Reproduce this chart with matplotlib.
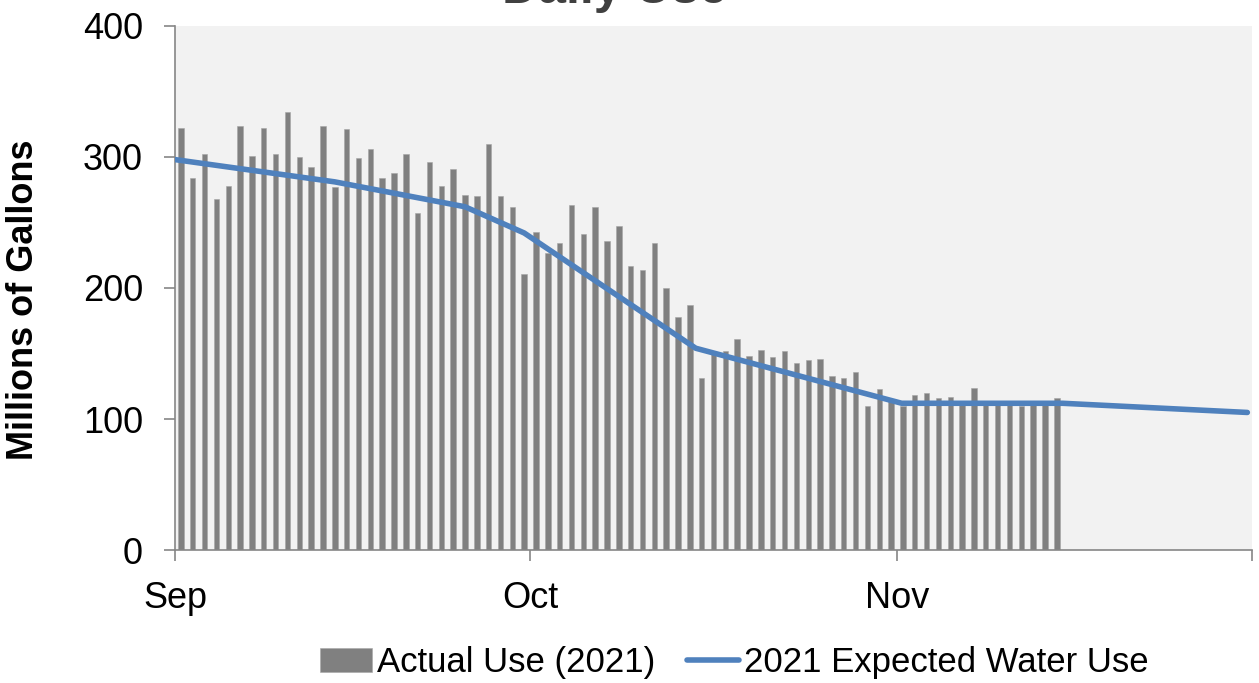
import matplotlib.pyplot as plt
import numpy as np

plt.rcParams['font.family'] = ['Liberation Sans', 'DejaVu Sans']

# daily actual use, Sep 1 .. Nov 14 (millions of gallons)
sep_use = [322, 284, 302, 268, 278, 324, 301, 322, 302, 334, 300, 292, 324, 277, 321,
           299, 306, 284, 288, 302, 257, 296, 278, 291, 271, 270, 310, 270, 262, 211]
oct_use = [243, 227, 234, 263, 241, 262, 236, 247, 217, 214, 234, 200, 178, 187, 131,
           150, 152, 161, 148, 153, 147, 152, 143, 145, 146, 133, 131, 136, 110, 123, 115]
nov_use = [110, 118, 120, 116, 117, 114, 124, 113, 111, 111, 110, 111, 114, 116]
actual = sep_use + oct_use + nov_use

# expected use curve (day offset from Sep 1, value)
exp_days = [0, 13.5, 24.5, 29.5, 44, 61.4, 75, 90.6]
exp_vals = [298, 281, 262, 242, 154, 112, 112, 105]

month_pos = [0, 30, 61, 91]
month_labels = ['Sep', 'Oct', 'Nov', '']

fig = plt.figure(figsize=(12.59, 6.83), dpi=100)
ax = fig.add_axes([0.139, 0.1947, 0.8555, 0.7673])
ax.set_facecolor('#F2F2F2')

days = np.arange(len(actual)) + 0.5
bars = ax.bar(days, actual, width=0.46, color='#808080', edgecolor='#A6A6A6', linewidth=0.4,
              label='Actual Use (2021)', zorder=2)
line, = ax.plot(exp_days, exp_vals, color='#4F81BD', linewidth=4.0, solid_capstyle='round',
                label='2021 Expected Water Use', zorder=3)

ax.set_xlim(0, 91)
ax.set_ylim(0, 400)
ax.set_yticks([0, 100, 200, 300, 400])
ax.set_xticks(month_pos)
ax.set_xticklabels(month_labels)

for s in ['top', 'right']:
    ax.spines[s].set_visible(False)
for s in ['left', 'bottom']:
    ax.spines[s].set_color('#868686')
    ax.spines[s].set_linewidth(1.2)
ax.tick_params(axis='y', length=8, width=1.2, color='#868686', pad=15, labelsize=26)
ax.tick_params(axis='x', length=8, width=1.2, color='#868686', pad=14, labelsize=26)

ax.set_ylabel('Millions of Gallons', fontsize=26, fontweight='bold')
ax.yaxis.set_label_coords(-0.1244, 0.477)

fig.text(615 / 1259, 1 - 3 / 683, 'Daily Use', fontsize=36, fontweight='bold',
         color='#404040', ha='center', va='baseline')

fig.legend([bars, line], ['Actual Use (2021)', '2021 Expected Water Use'],
           loc='center', bbox_to_anchor=(0.5834, 0.0293), ncol=2, frameon=False,
           fontsize=25, handlelength=1.5, handletextpad=0.15, columnspacing=0.9,
           borderaxespad=0)

fig.savefig('out.png', dpi=100)
